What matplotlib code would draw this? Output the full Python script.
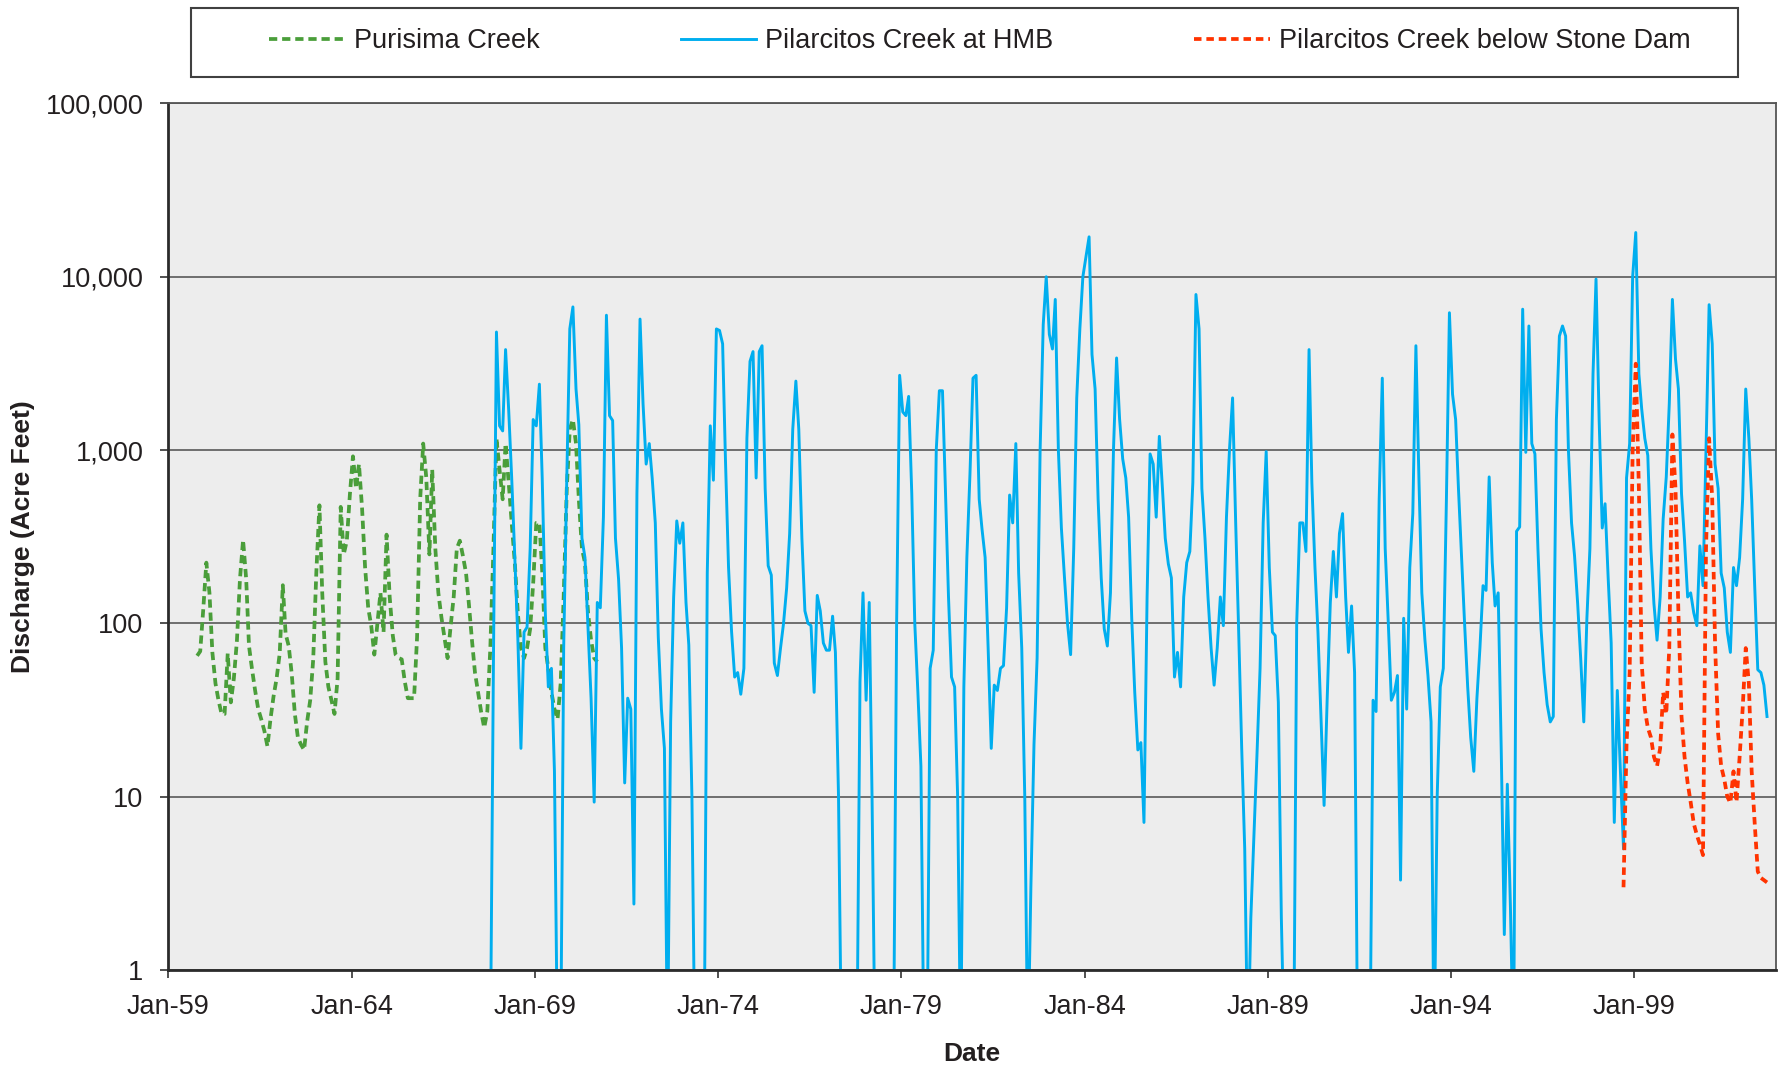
import matplotlib
matplotlib.use('Agg')
import matplotlib.pyplot as plt
import matplotlib.dates as mdates
from matplotlib.patches import Rectangle
from matplotlib.ticker import NullLocator
from datetime import datetime
import numpy as np
import pandas as pd

plt.rcParams['font.family'] = ['Liberation Sans', 'DejaVu Sans']

# monthly discharge in acre feet, one row per water year (Oct - Sep); 0 = no flow
purisima_start = '1959-10'
purisima = [
    65, 69, 120, 224, 150, 68, 45, 36, 30, 30, 67, 35,
    48, 80, 180, 303, 180, 74, 54, 41, 32, 28, 24, 19.5,
    28, 38, 48, 67, 166, 87, 74, 51, 30, 22, 20, 18.6,
    27, 36, 62, 197, 480, 150, 60, 43, 36, 30, 48, 470,
    250, 300, 550, 920, 600, 830, 460, 210, 123, 97, 66, 100,
    150, 89, 325, 142, 85, 66, 63, 62, 46, 37, 37, 37,
    83, 520, 1090, 690, 250, 770, 270, 150, 108, 83, 63, 97,
    142, 270, 300, 245, 195, 130, 80, 52, 40, 31, 25, 31,
    72, 270, 1170, 770, 520, 1090, 650, 380, 224, 115, 72, 63,
    72, 93, 170, 380, 380, 200, 72, 55, 40, 32, 28, 45,
    142, 600, 1320, 1500, 1090, 520, 270, 224, 115, 80, 63, 60,
]

hmb_start = '1967-10'
hmb = [
    0, 60, 4800, 1380, 1290, 3800, 1700, 690, 240, 83, 19, 89,
    95, 270, 1500, 1380, 2400, 690, 115, 43, 55, 14, 0, 0,
    72, 690, 5000, 6700, 2250, 1400, 310, 240, 94, 37, 9.3, 132,
    123, 410, 6000, 1580, 1480, 310, 180, 72, 12, 37, 32, 2.4,
    560, 5700, 1850, 830, 1090, 690, 380, 83, 32, 19, 0, 27,
    142, 390, 290, 380, 132, 75, 10, 0, 0, 0, 0, 195,
    1380, 670, 5000, 4900, 4100, 890, 210, 90, 49, 52, 39, 55,
    1170, 3250, 3700, 690, 3700, 4000, 600, 215, 190, 59, 50, 72,
    100, 160, 330, 1320, 2500, 1320, 310, 118, 100, 97, 40, 145,
    118, 77, 70, 70, 110, 68, 10, 0, 0, 0, 0, 0,
    0, 46, 150, 36, 132, 10, 0, 0, 0, 0, 0, 0,
    0, 100, 2700, 1660, 1580, 2040, 560, 100, 40, 15, 0, 0,
    55, 70, 1000, 2200, 2200, 600, 142, 49, 43, 10, 0, 43,
    240, 730, 2600, 2700, 520, 350, 240, 72, 19, 44, 41, 55,
    57, 123, 550, 380, 1090, 195, 72, 10, 0, 3, 20, 63,
    1000, 5300, 10000, 4650, 3830, 7400, 1000, 355, 183, 100, 66, 270,
    2000, 5000, 10000, 13000, 17000, 3560, 2250, 520, 183, 93, 74, 150,
    1000, 3400, 1510, 890, 690, 410, 107, 40, 18.6, 20.5, 7.1, 142,
    950, 830, 410, 1200, 600, 310, 220, 183, 49, 68, 43, 142,
    224, 260, 650, 7900, 5000, 600, 310, 142, 72, 44, 72, 142,
    97, 410, 1000, 2000, 380, 93, 19, 5, 0, 2, 6, 18,
    55, 380, 980, 210, 89, 85, 35, 2, 0, 0, 0, 0,
    100, 380, 380, 260, 3800, 650, 210, 89, 28, 8.9, 37, 132,
    260, 142, 330, 430, 142, 68, 126, 52, 0, 0, 0, 0,
    0, 36, 31, 520, 2600, 270, 100, 36, 40, 50, 3.3, 107,
    32, 210, 430, 4000, 650, 150, 80, 50, 27, 0, 10, 43,
    55, 520, 6200, 2100, 1500, 600, 240, 100, 43, 22, 14, 37,
    72, 165, 155, 700, 224, 126, 150, 19, 1.6, 11.8, 2.3, 0,
    340, 360, 6500, 970, 5200, 1090, 950, 270, 93, 52, 34, 27,
    29, 1500, 4550, 5200, 4550, 1000, 380, 245, 130, 63, 27, 107,
    270, 2750, 9700, 1500, 355, 490, 183, 77, 7.1, 41, 14, 5.0,
    690, 1090, 10000, 18000, 2750, 1730, 1170, 930, 270, 130, 80, 142,
    400, 700, 1850, 7400, 3350, 2250, 560, 300, 142, 150, 115, 97,
    280, 165, 1000, 6900, 4100, 830, 600, 195, 160, 89, 68, 210,
    165, 240, 520, 2250, 1170, 520, 160, 54, 52, 44, 29,
]

stone_start = '1998-09'
stone = [
    3.0, 20, 52, 1000, 3150, 600, 59, 32, 25, 22, 17, 15,
    19, 40, 30, 72, 1230, 600, 115, 29, 17, 12, 9.3, 7,
    6, 5.3, 4.6, 270, 1170, 520, 77, 23, 15, 12.6, 10, 9.2,
    14, 9.3, 17, 32, 72, 45, 14, 6.9, 3.7, 3.4, 3.3, 3.2,
]

labels = ['Purisima Creek', 'Pilarcitos Creek at HMB', 'Pilarcitos Creek below Stone Dam']


def month_dates(start, n):
    # values are plotted mid-month
    return pd.date_range(start, periods=n, freq='MS') + pd.Timedelta(days=14)


def on_log(v):
    # no-flow months run off the bottom of the log axis
    return np.clip(np.array(v, dtype=float), 0.3, None)


fig = plt.figure(figsize=(17.83, 10.70), dpi=100)
ax = fig.add_axes([0.0944, 0.0935, 0.9017, 0.8098])
ax.set_facecolor('#EDEDED')

l1, = ax.plot(month_dates(purisima_start, len(purisima)), on_log(purisima),
              color='#4A9E3A', lw=2.7, dashes=(2.2, 1.3), label=labels[0])
l2, = ax.plot(month_dates(hmb_start, len(hmb)), on_log(hmb),
              color='#00AEEF', lw=2.1, label=labels[1])
l3, = ax.plot(month_dates(stone_start, len(stone)), on_log(stone),
              color='#FF3300', lw=2.7, dashes=(2.0, 1.3), label=labels[2])

ax.set_yscale('log')
ax.set_ylim(1, 100000)
ax.set_xlim(datetime(1959, 1, 1), datetime(2002, 11, 13))

yt = [1, 10, 100, 1000, 10000, 100000]
ax.set_yticks(yt)
ax.set_yticklabels([f'{v:,}' for v in yt])
ax.yaxis.set_minor_locator(NullLocator())
ax.set_xticks([datetime(y, 1, 1) for y in range(1959, 2000, 5)])
ax.xaxis.set_major_formatter(mdates.DateFormatter('%b-%y'))

ax.yaxis.grid(True, color='#6E6E6E', lw=1.4)
ax.set_axisbelow(True)

for s in ['left', 'bottom']:
    ax.spines[s].set_color('#2B2B2B')
    ax.spines[s].set_linewidth(2)
for s in ['top', 'right']:
    ax.spines[s].set_color('#555555')
    ax.spines[s].set_linewidth(1.3)

ax.tick_params(axis='both', labelsize=19.5, length=6, width=1.2,
               color='#333333', labelcolor='#231F20')
ax.tick_params(axis='y', pad=12)
ax.tick_params(axis='x', pad=11)

ax.set_ylabel('Discharge (Acre Feet)', fontsize=19, fontweight='bold', color='#231F20')
ax.yaxis.set_label_coords(-0.083, 0.5)
ax.set_xlabel('Date', fontsize=19, fontweight='bold', color='#231F20')
ax.xaxis.set_label_coords(0.5, -0.083)

# legend box above the plot
fig.patches.append(Rectangle((191 / 1783, 1 - 77 / 1070), (1738 - 191) / 1783, 69 / 1070,
                             transform=fig.transFigure, facecolor='white',
                             edgecolor='#404040', lw=1.5, zorder=0))
fig.legend(handles=[l1, l2, l3], loc='center', bbox_to_anchor=(980 / 1783, 1 - 41 / 1070),
           ncol=3, frameon=False, fontsize=19.5, handlelength=2.8,
           handletextpad=0.33, columnspacing=5.2, labelcolor='#231F20')

fig.savefig('out.png', dpi=100, facecolor='white')
plt.close()
